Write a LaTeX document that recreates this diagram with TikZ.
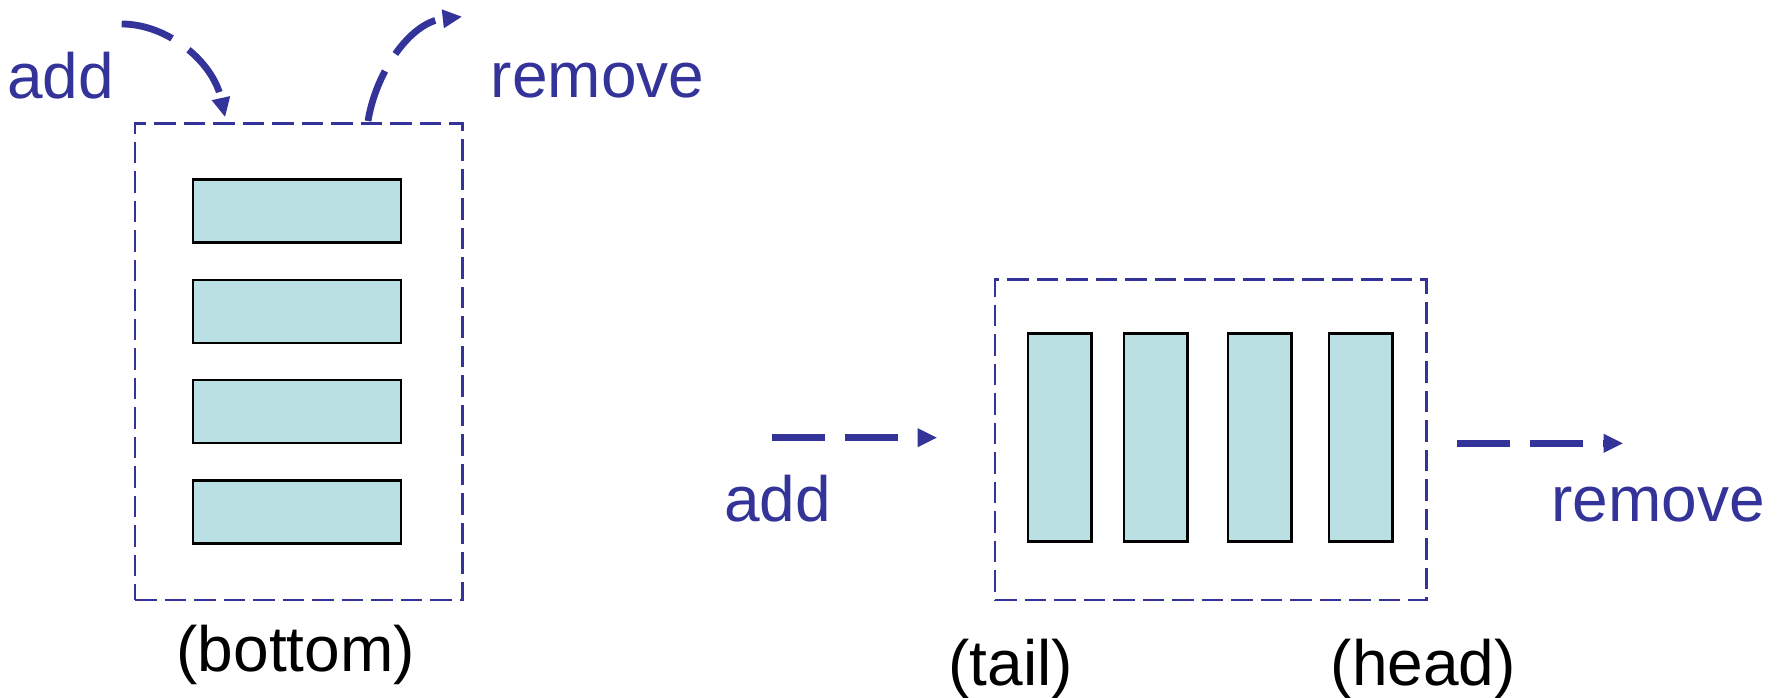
\documentclass[tikz,border=0pt]{standalone}
\usepackage{fontspec}
\setmainfont{Liberation Sans}
\usetikzlibrary{arrows.meta}
\definecolor{ink}{HTML}{333399}
\definecolor{slot}{HTML}{BAE0E3}
\begin{document}
\begin{tikzpicture}[x=0.5pt,y=-0.5pt,
  frame/.style={draw=ink, line width=1.35pt, dash pattern=on 10.75pt off 4pt,
    inner sep=0pt, outer sep=0pt},
  hslot/.style={draw=black, fill=slot, line width=1.4pt, inner sep=0pt,
    minimum width=104pt, minimum height=31.5pt},
  vslot/.style={draw=black, fill=slot, line width=1.4pt, inner sep=0pt,
    minimum width=31.8pt, minimum height=104pt},
  word/.style={font=\fontsize{32pt}{38pt}\selectfont, text=ink, inner sep=0pt, anchor=base},
  tag/.style={word, text=black},
  flow/.style={draw=ink, line width=3.4pt, dash pattern=on 26.5pt off 10pt,
    -{Triangle[length=9.5pt,width=9.5pt,line width=0pt]}}
]
\useasboundingbox (0,0) rectangle (1783,697);

% ---- stack ----
\node[frame, minimum width=163.85pt, minimum height=238.35pt] (stack) at (298.85,361.65) {};
\node[hslot] (s1) at (297,211.2) {};
\node[hslot] (s2) at (297,311.5) {};
\node[hslot] (s3) at (297,411.5) {};
\node[hslot] (s4) at (297,511.7) {};

\node[word] (stackadd) at (60.8,98) {add};
\node[word] (stackremove) at (597.5,97.7) {remove};
\node[tag] (bottom) at (295.8,671.7) {(bottom)};

\coordinate (pushfrom) at (121.7,24);
\coordinate (pushto) at (225,116.7);
\coordinate (popfrom) at (368,121);
\coordinate (popto) at (461.7,16.7);
\draw[flow] (pushfrom) .. controls (168,24) and (213,62) .. (pushto);
\draw[flow] (popfrom) .. controls (376,72) and (410,22.5) .. (popto);

% ---- queue ----
\node[frame, minimum width=215.85pt, minimum height=160.35pt] (queue) at (1210.85,439.65) {};
\node[vslot] (q1) at (1059.8,437.8) {};
\node[vslot] (q2) at (1155.7,437.8) {};
\node[vslot] (q3) at (1259.8,437.8) {};
\node[vslot] (q4) at (1360.8,437.8) {};

\node[word] (queueadd) at (777.5,521.7) {add};
\node[word] (queueremove) at (1658.3,521.7) {remove};
\node[tag] (tail) at (1010.8,685) {(tail)};
\node[tag] (head) at (1423.3,685) {(head)};

\coordinate (enqfrom) at (771.7,437.7);
\coordinate (enqto) at (936.7,437.7);
\coordinate (deqfrom) at (1456.7,443.3);
\coordinate (deqto) at (1622.7,443.3);
\draw[flow] (enqfrom) -- (enqto);
\draw[flow] (deqfrom) -- (deqto);
\end{tikzpicture}
\end{document}
